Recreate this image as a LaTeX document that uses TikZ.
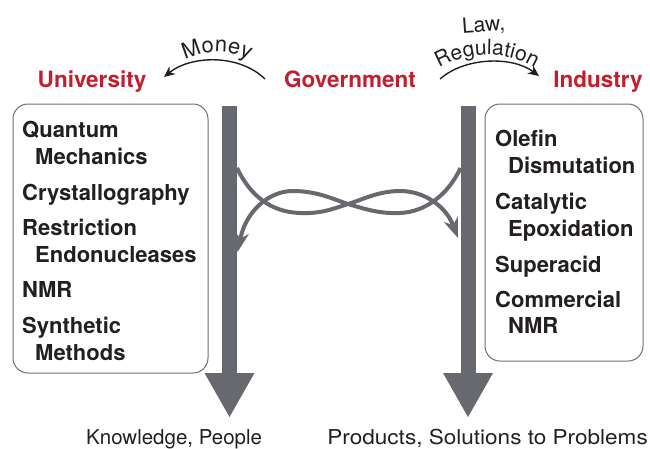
\documentclass[tikz,border=0pt]{standalone}
\usepackage{fontspec}
\setmainfont{TeX Gyre Heros}
\usetikzlibrary{arrows.meta,decorations.text}
\definecolor{barg}{RGB}{104,105,110}
\definecolor{labred}{RGB}{196,30,46}
\definecolor{ink}{RGB}{35,31,32}
\definecolor{frame}{RGB}{110,111,115}
\begin{document}
\begin{tikzpicture}[x=1pt,y=-1pt,
  toplab/.style={anchor=base,inner sep=0pt,text=labred,font=\fontsize{22.5}{27}\selectfont\bfseries},
  item/.style={anchor=base west,inner sep=0pt,text=ink,font=\fontsize{22}{26}\selectfont\bfseries},
  botlab/.style={inner sep=0pt,text=ink,font=\fontsize{20.5}{24}\selectfont},
  arclab/.style={inner sep=0pt,text=ink,font=\fontsize{21}{24}\selectfont},
  boxs/.style={draw=frame,line width=1pt,rounded corners=15pt,inner sep=0pt},
  bigarrow/.style={draw=barg,line width=15pt,-{Triangle[length=44pt,width=50pt,line width=0pt]}},
  swirl/.style={draw=barg,line width=4pt,-{Stealth[length=20pt,width=15pt,inset=6pt,line width=0pt]}},
  thin/.style={draw=ink,line width=1.4pt,-{Stealth[length=11pt,width=10pt,line width=0pt]}}
]
\useasboundingbox (0,0) rectangle (650,448);

% boxes
\node[boxs,minimum width=195pt,minimum height=269pt] (lbox) at (110.5,238.5) {};
\node[boxs,minimum width=158pt,minimum height=257pt] (rbox) at (564,232.5) {};

% big arrows
\coordinate (ltop) at (229.5,106);
\coordinate (lbot) at (229.5,417);
\coordinate (rtop) at (468,106);
\coordinate (rbot) at (468,417);
\draw[bigarrow] (ltop) -- (lbot);
\draw[bigarrow] (rtop) -- (rbot);

% crossing curves
\coordinate (c1s) at (237,168);
\coordinate (c1e) at (458,238);
\coordinate (c2s) at (460.5,168);
\coordinate (c2e) at (237.5,252);
\draw[swirl] (c1s) .. controls (250,195) and (270,212) .. (300,213)
  .. controls (322,214) and (335,208) .. (348,204)
  .. controls (362,200) and (378,191) .. (400,191)
  .. controls (425,191) and (446,207) .. (c1e);
\draw[swirl] (c2s) .. controls (448,195) and (425,212) .. (400,213)
  .. controls (378,214) and (362,208) .. (348,204)
  .. controls (335,200) and (318,191) .. (293,191)
  .. controls (268,191) and (246,212) .. (c2e);

% top labels
\node[toplab] (univ) at (92,87) {University};
\node[toplab] (gov) at (350,87) {Government};
\node[toplab] (ind) at (598,87) {Industry};

% money arrow
\coordinate (ms) at (265,79);
\coordinate (me) at (164,77);
\draw[thin] (ms) .. controls (238,53) and (190,56) .. (me);
\path[decorate,decoration={text along path,text align=center,
  text={|\fontsize{22}{26}\selectfont\color{ink}|Money}}]
  (163.4,77) arc[start angle=220,end angle=320,radius=70];

% law arrow
\coordinate (ls) at (440,79);
\coordinate (le) at (539,76);
\draw[thin] (ls) .. controls (465,57) and (512,56) .. (le);
\node[arclab,anchor=base,rotate=4] (law) at (484,32) {Law,};
\path[decorate,decoration={text along path,text align=center,
  text={|\fontsize{21}{25}\selectfont\color{ink}|Regulation}}]
  (432.5,72.2) arc[start angle=235,end angle=305,radius=95];

% left box items
\node[item] (l1) at (22,137) {Quantum};
\node[item] (l2) at (35,164) {Mechanics};
\node[item] (l3) at (22,200) {Crystallography};
\node[item] (l4) at (22,235) {Restriction};
\node[item] (l5) at (35,262) {Endonucleases};
\node[item] (l6) at (22,297) {NMR};
\node[item] (l7) at (22,333) {Synthetic};
\node[item] (l8) at (35,360) {Methods};

% right box items
\node[item] (r1) at (495,146) {Olefin};
\node[item] (r2) at (508,173) {Dismutation};
\node[item] (r3) at (495,209) {Catalytic};
\node[item] (r4) at (508,236) {Epoxidation};
\node[item] (r5) at (495,272) {Superacid};
\node[item] (r6) at (495,307) {Commercial};
\node[item] (r7) at (508,333) {NMR};

% bottom labels
\node[botlab,anchor=base west] (know) at (86,444) {Knowledge, People};
\node[botlab,anchor=base east,xscale=1.1] (prod) at (648,444) {Products, Solutions to Problems};
\end{tikzpicture}
\end{document}
